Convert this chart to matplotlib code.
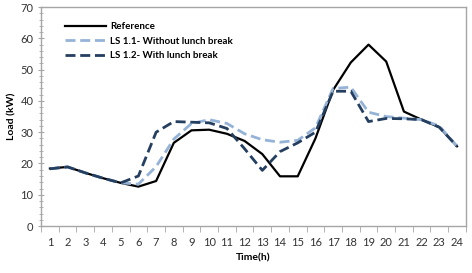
import matplotlib
matplotlib.use("Agg")
import matplotlib.pyplot as plt
from matplotlib.ticker import MultipleLocator, FixedLocator

hours = list(range(1, 25))
reference = [18.4, 18.9, 17.0, 15.3, 13.8, 12.6, 14.4, 26.6, 30.6, 30.8, 29.5, 27.2,
             23.0, 15.9, 15.9, 28.0, 43.5, 52.3, 58.0, 52.6, 36.6, 34.0, 31.6, 25.5]
ls11 = [18.3, 18.9, 17.0, 15.3, 13.8, 13.4, 19.0, 27.8, 32.8, 34.0, 32.8, 29.5,
        27.6, 26.8, 27.4, 31.4, 44.0, 44.4, 36.4, 35.0, 34.5, 34.0, 32.0, 25.5]
ls12 = [18.3, 18.9, 17.0, 15.3, 13.8, 16.0, 30.0, 33.4, 33.2, 33.0, 31.2, 24.7,
        17.8, 23.8, 26.6, 30.0, 43.1, 43.1, 33.4, 34.4, 34.3, 34.0, 31.6, 25.5]
yticks = [0, 10, 20, 30, 40, 50, 60, 70]

plt.rcParams['font.family'] = ['Lato', 'DejaVu Sans']
fig = plt.figure(figsize=(4.72, 2.73), dpi=100)
ax = fig.add_axes([0.087, 0.172, 0.900, 0.802])

ax.plot(hours, reference, color='black', lw=1.6, label='Reference')
ax.plot(hours, ls11, color='#95B3D7', lw=2.0, dashes=(3.6, 1.7), label='LS 1.1- Without lunch break')
ax.plot(hours, ls12, color='#243F60', lw=2.0, dashes=(3.6, 1.7), label='LS 1.2- With lunch break')

ax.set_xlim(0.5, 24.5)
ax.set_ylim(0, 70)
ax.set_yticks(yticks)
ax.yaxis.set_minor_locator(MultipleLocator(2))
ax.set_xticks(hours)
ax.xaxis.set_minor_locator(FixedLocator([h + 0.5 for h in range(0, 25)]))
ax.tick_params(axis='x', which='major', length=0, labelsize=8, pad=8, colors='#333333')
ax.tick_params(axis='x', which='minor', length=4, color='#A6A6A6', direction='out')
ax.tick_params(axis='y', which='major', length=4, labelsize=8, color='#A6A6A6', labelcolor='#333333', direction='inout')
ax.tick_params(axis='y', which='minor', length=3, color='#A6A6A6', direction='inout')
for s in ax.spines.values():
    s.set_color('#A6A6A6')
    s.set_linewidth(1.0)

ax.set_xlabel('Time(h)', fontsize=7.5, fontweight='bold', labelpad=4)
ax.set_ylabel('Load (kW)', fontsize=7.5, fontweight='bold', labelpad=3)

leg = ax.legend(loc='upper left', frameon=False, bbox_to_anchor=(0.035, 0.97),
                prop={'size': 7, 'weight': 'bold'}, handlelength=4.2, handletextpad=0.5,
                labelspacing=0.55)

fig.savefig('out.png', dpi=100)
